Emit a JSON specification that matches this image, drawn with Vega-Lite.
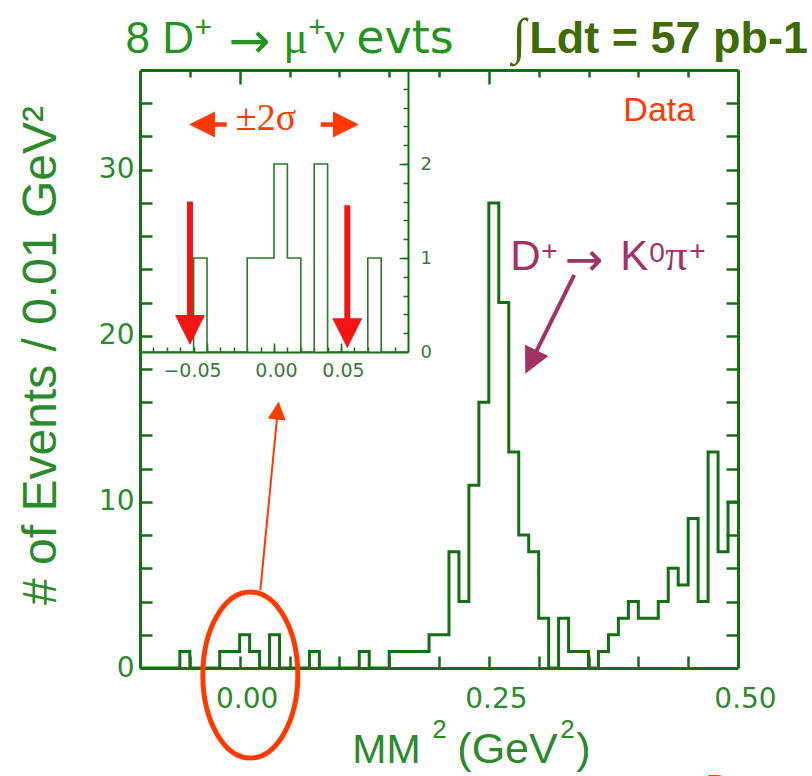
{
  "$schema": "https://vega.github.io/schema/vega-lite/v6.json",
  "width": 598,
  "height": 598,
  "autosize": {"type": "none"},
  "padding": {"left": 140, "top": 70, "right": 74, "bottom": 108},
  "background": "white",
  "config": {"view": {"stroke": null}, "axis": {"grid": false}},
  "datasets": {
    "main": [
      {"x": -0.10, "n": 0}, {"x": -0.09, "n": 0}, {"x": -0.08, "n": 0}, {"x": -0.07, "n": 0},
      {"x": -0.06, "n": 1}, {"x": -0.05, "n": 0}, {"x": -0.04, "n": 0}, {"x": -0.03, "n": 0},
      {"x": -0.02, "n": 1}, {"x": -0.01, "n": 1}, {"x": 0.00, "n": 2}, {"x": 0.01, "n": 1},
      {"x": 0.02, "n": 0}, {"x": 0.03, "n": 2}, {"x": 0.04, "n": 0}, {"x": 0.05, "n": 0},
      {"x": 0.06, "n": 0}, {"x": 0.07, "n": 1}, {"x": 0.08, "n": 0}, {"x": 0.09, "n": 0},
      {"x": 0.10, "n": 0}, {"x": 0.11, "n": 0}, {"x": 0.12, "n": 1}, {"x": 0.13, "n": 0},
      {"x": 0.14, "n": 0}, {"x": 0.15, "n": 1}, {"x": 0.16, "n": 1}, {"x": 0.17, "n": 1},
      {"x": 0.18, "n": 1}, {"x": 0.19, "n": 2}, {"x": 0.20, "n": 2}, {"x": 0.21, "n": 7},
      {"x": 0.22, "n": 4}, {"x": 0.23, "n": 11}, {"x": 0.24, "n": 16}, {"x": 0.25, "n": 28},
      {"x": 0.26, "n": 22}, {"x": 0.27, "n": 13}, {"x": 0.28, "n": 8}, {"x": 0.29, "n": 7},
      {"x": 0.30, "n": 3}, {"x": 0.31, "n": 0}, {"x": 0.32, "n": 3}, {"x": 0.33, "n": 1},
      {"x": 0.34, "n": 1}, {"x": 0.35, "n": 0}, {"x": 0.36, "n": 1}, {"x": 0.37, "n": 2},
      {"x": 0.38, "n": 3}, {"x": 0.39, "n": 4}, {"x": 0.40, "n": 3}, {"x": 0.41, "n": 3},
      {"x": 0.42, "n": 4}, {"x": 0.43, "n": 6}, {"x": 0.44, "n": 5}, {"x": 0.45, "n": 9},
      {"x": 0.46, "n": 4}, {"x": 0.47, "n": 13}, {"x": 0.48, "n": 7}, {"x": 0.49, "n": 10},
      {"x": 0.50, "n": 10}
    ],
    "inset": [
      {"x": -0.10, "n": 0}, {"x": -0.09, "n": 0}, {"x": -0.08, "n": 0}, {"x": -0.07, "n": 0},
      {"x": -0.06, "n": 1}, {"x": -0.05, "n": 0}, {"x": -0.04, "n": 0}, {"x": -0.03, "n": 0},
      {"x": -0.02, "n": 1}, {"x": -0.01, "n": 1}, {"x": 0.00, "n": 2}, {"x": 0.01, "n": 1},
      {"x": 0.02, "n": 0}, {"x": 0.03, "n": 2}, {"x": 0.04, "n": 0}, {"x": 0.05, "n": 0},
      {"x": 0.06, "n": 0}, {"x": 0.07, "n": 1}, {"x": 0.08, "n": 0}, {"x": 0.09, "n": 0},
      {"x": 0.10, "n": 0}
    ],
    "one": [{}]
  },
  "layer": [
    {
      "layer": [
        {
          "data": {"name": "main"},
          "mark": {"type": "line", "interpolate": "step-after", "color": "#146e14", "strokeWidth": 3, "clip": false},
          "encoding": {
            "x": {"field": "x", "type": "quantitative",
              "scale": {"domain": [-0.1, 0.5], "nice": false, "zero": false},
              "axis": {"orient": "bottom", "values": [0, 0.25, 0.5], "format": ".2f", "ticks": false,
                "labelPadding": 17, "labelOffset": 7, "labelFlush": false, "labelOverlap": false,
                "labelFont": "DejaVu Sans", "labelFontSize": 28, "labelColor": "#2b8a2b",
                "domainColor": "#146e14", "domainWidth": 3, "title": null}},
            "y": {"field": "n", "type": "quantitative",
              "scale": {"domain": [0, 36], "nice": false, "zero": false},
              "axis": {"orient": "left", "values": [0, 10, 20, 30], "ticks": false,
                "labelPadding": 6, "labelFlush": false, "labelOverlap": false,
                "labelFont": "DejaVu Sans", "labelFontSize": 28, "labelColor": "#2b8a2b",
                "domainColor": "#146e14", "domainWidth": 3,
                "title": "# of Events / 0.01 GeV²", "titleFont": "Liberation Sans", "titleFontSize": 48, "titleFontWeight": "normal",
                "titleColor": "#2b8a2b", "titleX": -85, "titleY": 285, "titleBaseline": "alphabetic", "titleAlign": "center", "titleAngle": -90}}
          }
        },
        {
          "data": {"name": "one"},
          "mark": {"type": "text", "text": "Data", "font": "Liberation Sans", "fontSize": 34, "color": "#ff3a00", "align": "center", "baseline": "alphabetic"},
          "encoding": {
            "x": {"datum": 0.421, "type": "quantitative", "scale": {"domain": [-0.1, 0.5], "nice": false, "zero": false},
              "axis": {"orient": "bottom", "values": [-0.05, 0, 0.05, 0.1, 0.15, 0.2, 0.25, 0.3, 0.35, 0.4, 0.45],
                "labels": false, "domain": false, "tickSize": -12, "tickWidth": 2.5, "tickColor": "#146e14", "title": null}},
            "y": {"datum": 32.9, "type": "quantitative", "scale": {"domain": [0, 36], "nice": false, "zero": false},
              "axis": {"orient": "left", "values": [2, 4, 6, 8, 10, 12, 14, 16, 18, 20, 22, 24, 26, 28, 30, 32, 34],
                "labels": false, "domain": false, "tickSize": -12, "tickWidth": 2.5, "tickColor": "#146e14", "title": null}}
          }
        },
        {
          "data": {"name": "one"},
          "mark": {"type": "text", "text": "D", "font": "Liberation Sans", "fontSize": 42, "color": "#a23266", "align": "left", "baseline": "alphabetic"},
          "encoding": {
            "x": {"datum": 0.2715, "type": "quantitative", "scale": {"domain": [-0.1, 0.5], "nice": false, "zero": false},
              "axis": {"orient": "top", "values": [0, 0.25, 0.5], "labels": false, "domain": true, "domainColor": "#146e14", "domainWidth": 3,
                "tickSize": -14, "tickWidth": 2.5, "tickColor": "#146e14", "title": null}},
            "y": {"datum": 23.98, "type": "quantitative", "scale": {"domain": [0, 36], "nice": false, "zero": false},
              "axis": {"orient": "right", "values": [2, 4, 6, 8, 10, 12, 14, 16, 18, 20, 22, 24, 26, 28, 30, 32, 34],
                "labels": false, "domain": true, "domainColor": "#146e14", "domainWidth": 3,
                "tickSize": -12, "tickWidth": 2.5, "tickColor": "#146e14", "title": null}}
          }
        },
        {
          "data": {"name": "one"},
          "mark": {"type": "text", "text": "+", "font": "Liberation Sans", "fontSize": 28, "color": "#a23266", "align": "left", "baseline": "alphabetic"},
          "encoding": {
            "x": {"datum": 0.3026, "type": "quantitative", "scale": {"domain": [-0.1, 0.5], "nice": false, "zero": false}, "axis": null},
            "y": {"datum": 24.58, "type": "quantitative", "scale": {"domain": [0, 36], "nice": false, "zero": false}, "axis": null}
          }
        },
        {
          "data": {"name": "one"},
          "mark": {"type": "text", "text": "→", "font": "DejaVu Sans", "fontSize": 46, "color": "#a23266", "align": "left", "baseline": "alphabetic"},
          "encoding": {
            "x": {"datum": 0.3265, "type": "quantitative", "scale": {"domain": [-0.1, 0.5], "nice": false, "zero": false}, "axis": null},
            "y": {"datum": 23.67, "type": "quantitative", "scale": {"domain": [0, 36], "nice": false, "zero": false}, "axis": null}
          }
        },
        {
          "data": {"name": "one"},
          "mark": {"type": "text", "text": "K", "font": "Liberation Sans", "fontSize": 42, "color": "#a23266", "align": "left", "baseline": "alphabetic"},
          "encoding": {
            "x": {"datum": 0.3818, "type": "quantitative", "scale": {"domain": [-0.1, 0.5], "nice": false, "zero": false}, "axis": null},
            "y": {"datum": 23.98, "type": "quantitative", "scale": {"domain": [0, 36], "nice": false, "zero": false}, "axis": null}
          }
        },
        {
          "data": {"name": "one"},
          "mark": {"type": "text", "text": "0", "font": "Liberation Sans", "fontSize": 28, "color": "#a23266", "align": "left", "baseline": "alphabetic"},
          "encoding": {
            "x": {"datum": 0.4109, "type": "quantitative", "scale": {"domain": [-0.1, 0.5], "nice": false, "zero": false}, "axis": null},
            "y": {"datum": 24.46, "type": "quantitative", "scale": {"domain": [0, 36], "nice": false, "zero": false}, "axis": null}
          }
        },
        {
          "data": {"name": "one"},
          "mark": {"type": "text", "text": "π", "font": "Liberation Serif", "fontSize": 44, "color": "#a23266", "align": "left", "baseline": "alphabetic"},
          "encoding": {
            "x": {"datum": 0.427, "type": "quantitative", "scale": {"domain": [-0.1, 0.5], "nice": false, "zero": false}, "axis": null},
            "y": {"datum": 23.98, "type": "quantitative", "scale": {"domain": [0, 36], "nice": false, "zero": false}, "axis": null}
          }
        },
        {
          "data": {"name": "one"},
          "mark": {"type": "text", "text": "+", "font": "Liberation Sans", "fontSize": 28, "color": "#a23266", "align": "left", "baseline": "alphabetic"},
          "encoding": {
            "x": {"datum": 0.451, "type": "quantitative", "scale": {"domain": [-0.1, 0.5], "nice": false, "zero": false}, "axis": null},
            "y": {"datum": 24.58, "type": "quantitative", "scale": {"domain": [0, 36], "nice": false, "zero": false}, "axis": null}
          }
        },
        {
          "data": {"name": "one"},
          "mark": {"type": "rule", "color": "#a23266", "strokeWidth": 4},
          "encoding": {
            "x": {"datum": 0.3357, "type": "quantitative", "scale": {"domain": [-0.1, 0.5], "nice": false, "zero": false},
              "axis": {"orient": "top", "values": [-0.05, 0.05, 0.1, 0.15, 0.2, 0.3, 0.35, 0.4, 0.45],
                "labels": false, "domain": false, "tickSize": -7, "tickWidth": 2.5, "tickColor": "#146e14", "title": null}},
            "y": {"datum": 23.67, "type": "quantitative", "scale": {"domain": [0, 36], "nice": false, "zero": false}, "axis": null},
            "x2": {"datum": 0.2923},
            "y2": {"datum": 18.42}
          }
        },
        {
          "data": {"name": "one"},
          "mark": {"type": "point", "shape": "M-1,-1L1,-1L0,1Z", "size": 676, "angle": 26, "filled": true, "color": "#a23266", "opacity": 1},
          "encoding": {
            "x": {"datum": 0.2923, "type": "quantitative", "scale": {"domain": [-0.1, 0.5], "nice": false, "zero": false}, "axis": null},
            "y": {"datum": 18.42, "type": "quantitative", "scale": {"domain": [0, 36], "nice": false, "zero": false}, "axis": null}
          }
        },
        {
          "data": {"name": "one"},
          "mark": {"type": "rule", "color": "#ff3a00", "strokeWidth": 2},
          "encoding": {
            "x": {"datum": 0.0208, "type": "quantitative", "scale": {"domain": [-0.1, 0.5], "nice": false, "zero": false}, "axis": null},
            "y": {"datum": 4.7, "type": "quantitative", "scale": {"domain": [0, 36], "nice": false, "zero": false}, "axis": null},
            "x2": {"datum": 0.0382},
            "y2": {"datum": 15.5}
          }
        },
        {
          "data": {"name": "one"},
          "mark": {"type": "point", "shape": "M-1,1L1,1L0,-1Z", "size": 324, "angle": 6, "filled": true, "color": "#ff3a00", "opacity": 1},
          "encoding": {
            "x": {"datum": 0.0382, "type": "quantitative", "scale": {"domain": [-0.1, 0.5], "nice": false, "zero": false}, "axis": null},
            "y": {"datum": 15.5, "type": "quantitative", "scale": {"domain": [0, 36], "nice": false, "zero": false}, "axis": null}
          }
        },
        {
          "data": {"name": "one"},
          "mark": {"type": "point", "shape": "M0,-1C0.316,-1,0.572,-0.552,0.572,0C0.572,0.552,0.316,1,0,1C-0.316,1,-0.572,0.552,-0.572,0C-0.572,-0.552,-0.316,-1,0,-1Z",
            "size": 27556, "filled": false, "stroke": "#ff3a00", "strokeWidth": 5, "opacity": 1},
          "encoding": {
            "x": {"datum": 0.0107, "type": "quantitative", "scale": {"domain": [-0.1, 0.5], "nice": false, "zero": false}, "axis": null},
            "y": {"datum": -0.42, "type": "quantitative", "scale": {"domain": [0, 36], "nice": false, "zero": false}, "axis": null}
          }
        },
        {
          "data": {"name": "one"},
          "mark": {"type": "text", "text": "Data", "font": "Liberation Sans", "fontSize": 34, "color": "#ff3a00", "align": "left", "baseline": "alphabetic"},
          "encoding": {
            "x": {"datum": 0.468, "type": "quantitative", "scale": {"domain": [-0.1, 0.5], "nice": false, "zero": false}, "axis": null},
            "y": {"datum": -7.83, "type": "quantitative", "scale": {"domain": [0, 36], "nice": false, "zero": false}, "axis": null}
          }
        },
        {
          "data": {"name": "one"},
          "mark": {"type": "text", "text": "MM", "font": "Liberation Sans", "fontSize": 41, "color": "#2b8a2b", "align": "left", "baseline": "alphabetic"},
          "encoding": {
            "x": {"datum": 0.113, "type": "quantitative", "scale": {"domain": [-0.1, 0.5], "nice": false, "zero": false}, "axis": null},
            "y": {"datum": -5.72, "type": "quantitative", "scale": {"domain": [0, 36], "nice": false, "zero": false}, "axis": null}
          }
        },
        {
          "data": {"name": "one"},
          "mark": {"type": "text", "text": "2", "font": "Liberation Sans", "fontSize": 26, "color": "#2b8a2b", "align": "left", "baseline": "alphabetic"},
          "encoding": {
            "x": {"datum": 0.1933, "type": "quantitative", "scale": {"domain": [-0.1, 0.5], "nice": false, "zero": false}, "axis": null},
            "y": {"datum": -4.22, "type": "quantitative", "scale": {"domain": [0, 36], "nice": false, "zero": false}, "axis": null}
          }
        },
        {
          "data": {"name": "one"},
          "mark": {"type": "text", "text": "(GeV", "font": "Liberation Sans", "fontSize": 43, "color": "#2b8a2b", "align": "left", "baseline": "alphabetic"},
          "encoding": {
            "x": {"datum": 0.2184, "type": "quantitative", "scale": {"domain": [-0.1, 0.5], "nice": false, "zero": false}, "axis": null},
            "y": {"datum": -5.72, "type": "quantitative", "scale": {"domain": [0, 36], "nice": false, "zero": false}, "axis": null}
          }
        },
        {
          "data": {"name": "one"},
          "mark": {"type": "text", "text": "2", "font": "Liberation Sans", "fontSize": 26, "color": "#2b8a2b", "align": "left", "baseline": "alphabetic"},
          "encoding": {
            "x": {"datum": 0.3217, "type": "quantitative", "scale": {"domain": [-0.1, 0.5], "nice": false, "zero": false}, "axis": null},
            "y": {"datum": -4.22, "type": "quantitative", "scale": {"domain": [0, 36], "nice": false, "zero": false}, "axis": null}
          }
        },
        {
          "data": {"name": "one"},
          "mark": {"type": "text", "text": ")", "font": "Liberation Sans", "fontSize": 43, "color": "#2b8a2b", "align": "left", "baseline": "alphabetic"},
          "encoding": {
            "x": {"datum": 0.3377, "type": "quantitative", "scale": {"domain": [-0.1, 0.5], "nice": false, "zero": false}, "axis": null},
            "y": {"datum": -5.72, "type": "quantitative", "scale": {"domain": [0, 36], "nice": false, "zero": false}, "axis": null}
          }
        },
        {
          "data": {"name": "one"},
          "mark": {"type": "text", "text": "8 D", "font": "Liberation Sans", "fontSize": 44, "color": "#23951f", "align": "left", "baseline": "alphabetic"},
          "encoding": {
            "x": {"datum": -0.1146, "type": "quantitative", "scale": {"domain": [-0.1, 0.5], "nice": false, "zero": false}, "axis": null},
            "y": {"datum": 37.05, "type": "quantitative", "scale": {"domain": [0, 36], "nice": false, "zero": false}, "axis": null}
          }
        },
        {
          "data": {"name": "one"},
          "mark": {"type": "text", "text": "+", "font": "Liberation Sans", "fontSize": 30, "color": "#23951f", "align": "left", "baseline": "alphabetic"},
          "encoding": {
            "x": {"datum": -0.0454, "type": "quantitative", "scale": {"domain": [-0.1, 0.5], "nice": false, "zero": false}, "axis": null},
            "y": {"datum": 38.01, "type": "quantitative", "scale": {"domain": [0, 36], "nice": false, "zero": false}, "axis": null}
          }
        },
        {
          "data": {"name": "one"},
          "mark": {"type": "text", "text": "→", "font": "DejaVu Sans", "fontSize": 50, "color": "#23951f", "align": "left", "baseline": "alphabetic"},
          "encoding": {
            "x": {"datum": -0.0113, "type": "quantitative", "scale": {"domain": [-0.1, 0.5], "nice": false, "zero": false}, "axis": null},
            "y": {"datum": 36.75, "type": "quantitative", "scale": {"domain": [0, 36], "nice": false, "zero": false}, "axis": null}
          }
        },
        {
          "data": {"name": "one"},
          "mark": {"type": "text", "text": "μ", "font": "Liberation Serif", "fontSize": 46, "color": "#23951f", "align": "left", "baseline": "alphabetic"},
          "encoding": {
            "x": {"datum": 0.0438, "type": "quantitative", "scale": {"domain": [-0.1, 0.5], "nice": false, "zero": false}, "axis": null},
            "y": {"datum": 37.05, "type": "quantitative", "scale": {"domain": [0, 36], "nice": false, "zero": false}, "axis": null}
          }
        },
        {
          "data": {"name": "one"},
          "mark": {"type": "text", "text": "+", "font": "Liberation Sans", "fontSize": 30, "color": "#23951f", "align": "left", "baseline": "alphabetic"},
          "encoding": {
            "x": {"datum": 0.0689, "type": "quantitative", "scale": {"domain": [-0.1, 0.5], "nice": false, "zero": false}, "axis": null},
            "y": {"datum": 38.01, "type": "quantitative", "scale": {"domain": [0, 36], "nice": false, "zero": false}, "axis": null}
          }
        },
        {
          "data": {"name": "one"},
          "mark": {"type": "text", "text": "ν", "font": "Liberation Serif", "fontSize": 46, "color": "#23951f", "align": "left", "baseline": "alphabetic"},
          "encoding": {
            "x": {"datum": 0.0849, "type": "quantitative", "scale": {"domain": [-0.1, 0.5], "nice": false, "zero": false}, "axis": null},
            "y": {"datum": 37.05, "type": "quantitative", "scale": {"domain": [0, 36], "nice": false, "zero": false}, "axis": null}
          }
        },
        {
          "data": {"name": "one"},
          "mark": {"type": "text", "text": "evts", "font": "DejaVu Sans", "fontSize": 46, "color": "#23951f", "align": "left", "baseline": "alphabetic"},
          "encoding": {
            "x": {"datum": 0.1170, "type": "quantitative", "scale": {"domain": [-0.1, 0.5], "nice": false, "zero": false}, "axis": null},
            "y": {"datum": 37.05, "type": "quantitative", "scale": {"domain": [0, 36], "nice": false, "zero": false}, "axis": null}
          }
        },
        {
          "data": {"name": "one"},
          "mark": {"type": "text", "text": "∫", "font": "Liberation Serif", "fontSize": 50, "color": "#3f6a06", "align": "left", "baseline": "alphabetic"},
          "encoding": {
            "x": {"datum": 0.2735, "type": "quantitative", "scale": {"domain": [-0.1, 0.5], "nice": false, "zero": false}, "axis": null},
            "y": {"datum": 37.05, "type": "quantitative", "scale": {"domain": [0, 36], "nice": false, "zero": false}, "axis": null}
          }
        },
        {
          "data": {"name": "one"},
          "mark": {"type": "text", "text": "Ldt = 57 pb-1", "font": "Liberation Sans", "fontSize": 45, "fontWeight": "bold", "color": "#3f6a06", "align": "left", "baseline": "alphabetic"},
          "encoding": {
            "x": {"datum": 0.2905, "type": "quantitative", "scale": {"domain": [-0.1, 0.5], "nice": false, "zero": false}, "axis": null},
            "y": {"datum": 37.05, "type": "quantitative", "scale": {"domain": [0, 36], "nice": false, "zero": false}, "axis": null}
          }
        }
      ],
      "resolve": {"axis": {"x": "independent", "y": "independent"}}
    },
    {
      "layer": [
        {
          "data": {"name": "inset"},
          "mark": {"type": "line", "interpolate": "step-after", "color": "#2a7a2a", "strokeWidth": 1.6, "clip": false},
          "encoding": {
            "x": {"field": "x", "type": "quantitative",
              "scale": {"domain": [-0.1, 0.1], "range": [0, 268], "nice": false, "zero": false},
              "axis": {"orient": "bottom", "offset": -316, "values": [-0.05, 0, 0.05], "format": ".2f", "ticks": false,
                "labelPadding": 9, "labelFlush": false, "labelOverlap": false,
                "labelOffset": {"condition": {"test": "datum.value < -0.01", "value": -15}, "value": 2},
                "labelFont": "DejaVu Sans", "labelFontSize": 19, "labelColor": "#3a7a3a",
                "domainColor": "#146e14", "domainWidth": 2, "title": null}},
            "y": {"field": "n", "type": "quantitative",
              "scale": {"domain": [0, 3], "range": [282, 0], "nice": false, "zero": false},
              "axis": {"orient": "right", "offset": -330, "values": [0, 1, 2], "ticks": false,
                "labelPadding": 12, "labelFlush": false, "labelOverlap": false,
                "labelFont": "DejaVu Sans", "labelFontSize": 18, "labelColor": "#3a7a3a",
                "domainColor": "#146e14", "domainWidth": 2, "title": null}}
          }
        },
        {
          "data": {"name": "one"},
          "mark": {"type": "rule", "color": "#f51414", "strokeWidth": 6},
          "encoding": {
            "x": {"datum": -0.0627, "type": "quantitative",
              "scale": {"domain": [-0.1, 0.1], "range": [0, 268], "nice": false, "zero": false},
              "axis": {"orient": "bottom", "offset": -316,
                "values": [-0.09, -0.08, -0.07, -0.06, -0.05, -0.04, -0.03, -0.02, -0.01, 0, 0.01, 0.02, 0.03, 0.04, 0.05, 0.06, 0.07, 0.08, 0.09],
                "labels": false, "domain": false, "tickSize": -5, "tickWidth": 1.5, "tickColor": "#146e14", "title": null}},
            "y": {"datum": 1.6, "type": "quantitative",
              "scale": {"domain": [0, 3], "range": [282, 0], "nice": false, "zero": false},
              "axis": {"orient": "right", "offset": -330,
                "values": [0.2, 0.4, 0.6, 0.8, 1, 1.2, 1.4, 1.6, 1.8, 2, 2.2, 2.4, 2.6, 2.8],
                "labels": false, "domain": false, "tickSize": -5, "tickWidth": 1.5, "tickColor": "#146e14", "title": null}},
            "y2": {"datum": 0.234}
          }
        },
        {
          "data": {"name": "one"},
          "mark": {"type": "rule", "color": "#f51414", "strokeWidth": 6},
          "encoding": {
            "x": {"datum": 0.0547, "type": "quantitative",
              "scale": {"domain": [-0.1, 0.1], "range": [0, 268], "nice": false, "zero": false},
              "axis": {"orient": "bottom", "offset": -316, "values": [-0.05, 0, 0.05],
                "labels": false, "domain": false, "tickSize": -9, "tickWidth": 1.5, "tickColor": "#146e14", "title": null}},
            "y": {"datum": 1.56, "type": "quantitative",
              "scale": {"domain": [0, 3], "range": [282, 0], "nice": false, "zero": false},
              "axis": {"orient": "right", "offset": -330, "values": [1, 2],
                "labels": false, "domain": false, "tickSize": -9, "tickWidth": 1.5, "tickColor": "#146e14", "title": null}},
            "y2": {"datum": 0.2}
          }
        },
        {
          "data": {"name": "one"},
          "mark": {"type": "point", "shape": "M-1,-1L1,-1L0,1Z", "size": 900, "filled": true, "color": "#f51414", "opacity": 1},
          "encoding": {
            "x": {"datum": -0.0627, "type": "quantitative", "scale": {"domain": [-0.1, 0.1], "range": [0, 268], "nice": false, "zero": false}, "axis": null},
            "y": {"datum": 0.234, "type": "quantitative", "scale": {"domain": [0, 3], "range": [282, 0], "nice": false, "zero": false}, "axis": null}
          }
        },
        {
          "data": {"name": "one"},
          "mark": {"type": "point", "shape": "M-1,-1L1,-1L0,1Z", "size": 900, "filled": true, "color": "#f51414", "opacity": 1},
          "encoding": {
            "x": {"datum": 0.0547, "type": "quantitative", "scale": {"domain": [-0.1, 0.1], "range": [0, 268], "nice": false, "zero": false}, "axis": null},
            "y": {"datum": 0.2, "type": "quantitative", "scale": {"domain": [0, 3], "range": [282, 0], "nice": false, "zero": false}, "axis": null}
          }
        },
        {
          "data": {"name": "one"},
          "mark": {"type": "rule", "color": "#ff3a00", "strokeWidth": 4.5},
          "encoding": {
            "x": {"datum": -0.0537, "type": "quantitative", "scale": {"domain": [-0.1, 0.1], "range": [0, 268], "nice": false, "zero": false}, "axis": null},
            "y": {"datum": 2.42, "type": "quantitative", "scale": {"domain": [0, 3], "range": [282, 0], "nice": false, "zero": false}, "axis": null},
            "x2": {"datum": -0.0353}
          }
        },
        {
          "data": {"name": "one"},
          "mark": {"type": "rule", "color": "#ff3a00", "strokeWidth": 4.5},
          "encoding": {
            "x": {"datum": 0.0349, "type": "quantitative", "scale": {"domain": [-0.1, 0.1], "range": [0, 268], "nice": false, "zero": false}, "axis": null},
            "y": {"datum": 2.42, "type": "quantitative", "scale": {"domain": [0, 3], "range": [282, 0], "nice": false, "zero": false}, "axis": null},
            "x2": {"datum": 0.0537}
          }
        },
        {
          "data": {"name": "one"},
          "mark": {"type": "point", "shape": "M1,-1L1,1L-1,0Z", "size": 676, "filled": true, "color": "#ff3a00", "opacity": 1},
          "encoding": {
            "x": {"datum": -0.0537, "type": "quantitative", "scale": {"domain": [-0.1, 0.1], "range": [0, 268], "nice": false, "zero": false}, "axis": null},
            "y": {"datum": 2.42, "type": "quantitative", "scale": {"domain": [0, 3], "range": [282, 0], "nice": false, "zero": false}, "axis": null}
          }
        },
        {
          "data": {"name": "one"},
          "mark": {"type": "point", "shape": "M-1,-1L-1,1L1,0Z", "size": 676, "filled": true, "color": "#ff3a00", "opacity": 1},
          "encoding": {
            "x": {"datum": 0.0537, "type": "quantitative", "scale": {"domain": [-0.1, 0.1], "range": [0, 268], "nice": false, "zero": false}, "axis": null},
            "y": {"datum": 2.42, "type": "quantitative", "scale": {"domain": [0, 3], "range": [282, 0], "nice": false, "zero": false}, "axis": null}
          }
        },
        {
          "data": {"name": "one"},
          "mark": {"type": "text", "text": "±2σ", "font": "Liberation Serif", "fontSize": 38, "color": "#ff3a00", "align": "center", "baseline": "alphabetic"},
          "encoding": {
            "x": {"datum": -0.006, "type": "quantitative", "scale": {"domain": [-0.1, 0.1], "range": [0, 268], "nice": false, "zero": false}, "axis": null},
            "y": {"datum": 2.36, "type": "quantitative", "scale": {"domain": [0, 3], "range": [282, 0], "nice": false, "zero": false}, "axis": null}
          }
        }
      ],
      "resolve": {"axis": {"x": "independent", "y": "independent"}}
    }
  ],
  "resolve": {"scale": {"x": "independent", "y": "independent"}}
}
